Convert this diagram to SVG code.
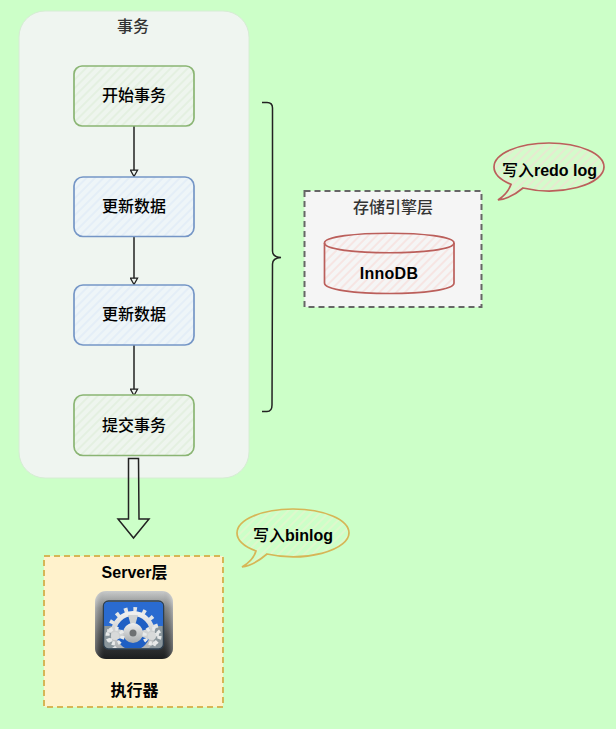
<svg xmlns="http://www.w3.org/2000/svg" width="616" height="729" viewBox="0 0 616 729">
<style>
text{text-anchor:middle;font-family:"Liberation Sans","Noto Sans CJK SC",sans-serif;font-size:16px;font-weight:700;fill:#000}
.title{fill:#333;font-weight:500}
.med{font-weight:500}
.conn{fill:none;stroke:#222;stroke-width:1.5}
.green{stroke:#8ab573;stroke-width:1.7}
.blue{stroke:#7596c6;stroke-width:1.7}
</style>
<defs>
<pattern id="hGreen" width="6" height="6" patternUnits="userSpaceOnUse" patternTransform="rotate(45)"><rect width="6" height="6" fill="#eef5ee"/><rect width="2" height="6" fill="#e4f0e1"/></pattern>
<pattern id="hBlue" width="6" height="6" patternUnits="userSpaceOnUse" patternTransform="rotate(45)"><rect width="6" height="6" fill="#eef5f8"/><rect width="2" height="6" fill="#e4eef7"/></pattern>
<pattern id="hRed" width="6" height="6" patternUnits="userSpaceOnUse" patternTransform="rotate(45)"><rect width="6" height="6" fill="#f5f5f5"/><rect width="2" height="6" fill="#f6e5e3"/></pattern>
<pattern id="hRedC" width="6" height="6" patternUnits="userSpaceOnUse" patternTransform="rotate(45)"><rect width="6" height="6" fill="#d4fbcb"/><rect width="2" height="6" fill="#e6ead0"/></pattern>
<pattern id="hYel" width="6" height="6" patternUnits="userSpaceOnUse" patternTransform="rotate(45)"><rect width="6" height="6" fill="#ccffc8"/><rect width="2" height="6" fill="#def8cc"/></pattern>
<linearGradient id="frame" x1="0" y1="0" x2="0" y2="1"><stop offset="0" stop-color="#dfe1e1"/><stop offset=".25" stop-color="#8f9292"/><stop offset=".65" stop-color="#4c4f50"/><stop offset="1" stop-color="#1f2122"/></linearGradient>
<linearGradient id="side" x1="0" y1="0" x2="1" y2="0"><stop offset="0" stop-color="#fff" stop-opacity=".3"/><stop offset=".12" stop-color="#000" stop-opacity=".1"/><stop offset=".88" stop-color="#000" stop-opacity=".1"/><stop offset="1" stop-color="#fff" stop-opacity=".3"/></linearGradient>
<linearGradient id="gear" x1="0" y1="0" x2="0" y2="1"><stop offset="0" stop-color="#efefef"/><stop offset="1" stop-color="#a6aaac"/></linearGradient>
<marker id="arr" markerWidth="9" markerHeight="9" refX="7" refY="4.500" orient="auto" markerUnits="userSpaceOnUse" viewBox="0 0 9 9"><path d="M1.200 1L7.500 4.500L1.200 8Z" fill="#eff5f0" stroke="#222" stroke-width="1.300"/></marker>
<clipPath id="screenClip"><rect x="104" y="602" width="59" height="46" rx="4"/></clipPath>
</defs>
<rect width="616" height="729" fill="#ccffc8"/>

<g id="tx-group">
<rect x="19" y="11" width="230" height="467" rx="26" fill="#eff5f0" stroke="#d6ecd4" stroke-width="1"/>
<text class="title" x="133" y="32">事务</text>
</g>

<g id="connectors">
<path class="conn" d="M134 126L134 176" marker-end="url(#arr)"/>
<path class="conn" d="M134 236L134 284" marker-end="url(#arr)"/>
<path class="conn" d="M134 345L134 395" marker-end="url(#arr)"/>
<path d="M128.500 458.500L138.500 458.500L139 519L149 519L133.500 538L118 519L128.500 519Z" fill="none" stroke="#222" stroke-width="1.500"/>
<path class="conn" d="M262 102.500L267 102.500Q272.500 102.500 272.500 108L272.500 251Q272.500 257 281 257.500Q272.500 258 272.500 264L272 405Q272 411.500 267 411.500L262 411.500"/>
</g>

<g id="start-tx">
<rect class="green" x="74" y="66" width="120" height="60" rx="8" fill="url(#hGreen)"/>
<text class="med" x="134" y="101">开始事务</text>
</g>
<g id="update-1">
<rect class="blue" x="74" y="177" width="120" height="59.500" rx="9" fill="url(#hBlue)"/>
<text class="med" x="134" y="212">更新数据</text>
</g>
<g id="update-2">
<rect class="blue" x="74" y="285" width="120" height="60" rx="9" fill="url(#hBlue)"/>
<text class="med" x="134" y="320">更新数据</text>
</g>
<g id="commit-tx">
<rect class="green" x="74" y="395" width="120" height="60.500" rx="9" fill="url(#hGreen)"/>
<text class="med" x="134" y="431">提交事务</text>
</g>

<g id="storage-layer">
<rect x="304.500" y="191" width="177" height="116" fill="#f5f5f5" stroke="#666" stroke-width="2" stroke-dasharray="6 4"/>
<text class="title" x="393" y="213">存储引擎层</text>
</g>
<g id="innodb">
<path d="M324.500 243C324.500 230 454 230 454 243L454 283C454 297 324.500 297 324.500 283Z" fill="url(#hRed)" stroke="#bb5f5b" stroke-width="1.700"/>
<path d="M324.500 243C324.500 256 454 256 454 243" fill="none" stroke="#bb5f5b" stroke-width="1.700"/>
<text x="389" y="279" letter-spacing=".3">InnoDB</text>
</g>

<g id="callout-redo">
<path d="M511 184.400A55 24 0 0 1 494 167A55 24 0 0 1 604 167A55 24 0 0 1 523 188C516 194 507 199 498 200C504 196 509 190 511 184.400Z" fill="url(#hRedC)" stroke="#bb5f5b" stroke-width="1.700"/>
<text x="549.500" y="176"><tspan class="med">写入</tspan>redo log</text>
</g>

<g id="callout-binlog">
<path d="M256 551A56 24 0 0 1 237 533A56 24 0 0 1 349 533A56 24 0 0 1 267 554C260 560 251 566 242 567C249 563 254 558 256 551Z" fill="url(#hYel)" stroke="#d6b656" stroke-width="1.700"/>
<text x="293" y="541"><tspan class="med">写入</tspan>binlog</text>
</g>

<g id="server-layer">
<rect x="44" y="556" width="179" height="151" fill="#fff2cc" stroke="#d6b656" stroke-width="2" stroke-dasharray="6 4"/>
<text x="134.500" y="578">Server层</text>
<text x="134.500" y="696">执行器</text>
</g>

<g id="executor-icon">
<rect x="95" y="591" width="78" height="68" rx="11" fill="url(#frame)"/>
<rect x="95" y="591" width="78" height="68" rx="11" fill="url(#side)"/>
<rect x="103.500" y="601" width="60" height="48" rx="5" fill="#8b979d" stroke="#2e3f4e" stroke-width="1.500"/>
<g clip-path="url(#screenClip)">
<rect x="104" y="602" width="59" height="24" fill="#2a6bd0"/>
<circle cx="133" cy="633" r="18" fill="#1f5fc4"/>
<circle cx="133" cy="633" r="23.500" fill="none" stroke="#e4e6e6" stroke-width="5" stroke-dasharray="3.600 5.600"/>
<circle cx="133" cy="633" r="19.500" fill="none" stroke="url(#gear)" stroke-width="5"/>
<path d="M133 633L114 628L116 640ZM133 633L152 628L150 640ZM133 633L128 615L138 615Z" fill="#cfd2d3"/>
<circle cx="133" cy="633" r="10" fill="url(#gear)"/>
<circle cx="133" cy="633" r="3.500" fill="#6d7072"/>
<circle cx="115" cy="636" r="7.500" fill="none" stroke="#e8eaea" stroke-width="4" stroke-dasharray="3 2.900"/>
<circle cx="152" cy="636" r="7.500" fill="none" stroke="#e8eaea" stroke-width="4" stroke-dasharray="3 2.900"/>
<circle cx="115" cy="636" r="4" fill="#d8dada"/>
<circle cx="152" cy="636" r="4" fill="#d8dada"/>
</g>
</g>
</svg>
